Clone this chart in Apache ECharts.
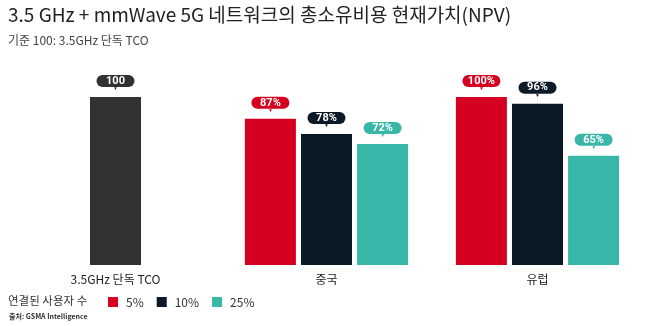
<!DOCTYPE html>
<html><head><meta charset="utf-8">
<script src="https://cdn.jsdelivr.net/npm/echarts@6/dist/echarts.min.js"></script>
<style>html,body{margin:0;padding:0;background:#fff}#c{width:658px;height:326px}</style>
</head><body><div id="c"></div>
<script>
var categories = ['3.5GHz 단독 TCO', '중국', '유럽'];
var baseline = [100, '-', '-'];
var s5 = ['-', 87, 100];
var s10 = ['-', 78, 96];
var s25 = ['-', 72, 65];
var seriesNames = ['5%', '10%', '25%'];
var titleText = '3.5 GHz + mmWave 5G 네트워크의 총소유비용 현재가치(NPV)';
var subText = '기준 100: 3.5GHz 단독 TCO';
var legendTitle = '연결된 사용자 수';
var sourceText = '출처: GSMA Intelligence';

var FONT = '"Noto Sans CJK KR", "Noto Sans", sans-serif';
var cRed = '#d5001f', cNavy = '#0c1926', cTeal = '#38b6a7', cGray = '#323232';

function lbl(color, pct) {
  return {
    show: true, position: 'top', distance: 6,
    formatter: function (p) { return '{p|' + p.value + (pct ? '%' : '') + '}\n{t|▼}'; },
    rich: {
      p: { backgroundColor: color, color: '#fff', borderRadius: 6, width: 38, height: 12, lineHeight: 12,
           align: 'center', fontSize: 11, fontWeight: 'bold', fontFamily: 'Roboto, sans-serif' },
      t: { color: color, fontSize: 5, lineHeight: 4, height: 4, align: 'center' }
    }
  };
}

var chart = echarts.init(document.getElementById('c'), null, { renderer: 'canvas' });
chart.setOption({
  animation: false,
  title: [
    { text: titleText, left: 8, top: 3, padding: [2, 0, 0, 0], textStyle: { fontFamily: FONT, fontSize: 19, fontWeight: 'normal', color: '#222' } },
    { text: subText, left: 8, top: 32, padding: [2, 0, 0, 0], textStyle: { fontFamily: FONT, fontSize: 12, fontWeight: 'normal', color: '#444' } },
    { text: legendTitle, left: 8, top: 295, padding: 0, textStyle: { fontFamily: FONT, fontSize: 11.5, fontWeight: 'normal', color: '#333' } },
    { text: sourceText, left: 9, top: 313, padding: 0, textStyle: { fontFamily: FONT, fontSize: 7, fontWeight: 'bold', color: '#333' } }
  ],
  legend: {
    data: seriesNames, left: 108, top: 296, padding: 0, itemWidth: 10, itemHeight: 10, itemGap: 13,
    icon: 'rect',
    textStyle: { fontFamily: FONT, fontSize: 12, color: '#333', padding: [0, 0, 0, 3] }
  },
  grid: { left: 10, width: 633, top: 97, height: 168 },
  xAxis: {
    type: 'category', data: categories,
    axisLine: { show: false }, axisTick: { show: false },
    axisLabel: { margin: 8, fontFamily: FONT, fontSize: 12, color: '#222' }
  },
  yAxis: { type: 'value', min: 0, max: 100, show: false, splitLine: { show: false } },
  series: [
    { name: '5%', type: 'bar', data: s5, barWidth: 51, barGap: '10%', itemStyle: { color: cRed }, label: lbl(cRed, true) },
    { name: '10%', type: 'bar', data: s10, stack: 'mid', barWidth: 51, itemStyle: { color: cNavy }, label: lbl(cNavy, true) },
    { name: 'base', type: 'bar', data: baseline, stack: 'mid', barWidth: 51, itemStyle: { color: cGray }, label: lbl(cGray, false) },
    { name: '25%', type: 'bar', data: s25, barWidth: 51, itemStyle: { color: cTeal }, label: lbl(cTeal, true) }
  ]
});
</script></body></html>
